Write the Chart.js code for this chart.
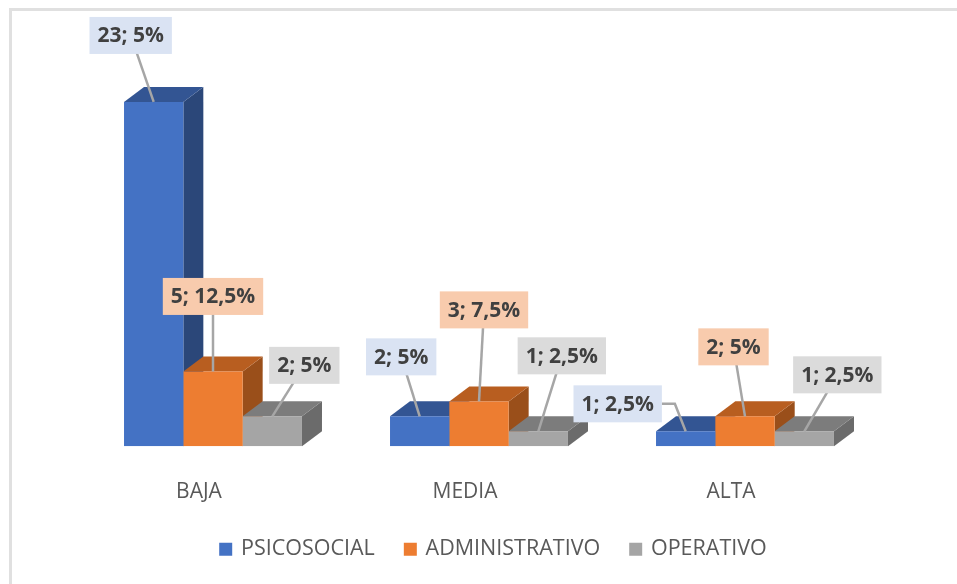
<!DOCTYPE html>
<html>
<head>
<meta charset="utf-8">
<script src="https://cdn.jsdelivr.net/npm/chart.js@4"></script>
<style>
  html, body { margin: 0; padding: 0; background: #fff; overflow: hidden; }
  #frame { position: absolute; left: 9px; top: 8px; width: 948px; height: 576px; border-top: 3px solid #e0e0e0; border-left: 3px solid #e0e0e0; box-sizing: border-box; }
  canvas { position: absolute; left: 0; top: 0; }
</style>
</head>
<body>
<div id="frame"></div>
<canvas id="chart" width="957" height="584"></canvas>
<script>
const categories = ["BAJA", "MEDIA", "ALTA"];
const psicosocial = [23, 2, 1];
const administrativo = [5, 3, 2];
const operativo = [2, 1, 1];
const psicosocialPct = ["5%", "5%", "2,5%"];
const administrativoPct = ["12,5%", "7,5%", "5%"];
const operativoPct = ["5%", "2,5%", "2,5%"];

// box centre relative to the top centre of the bar's front face, per category then series
const labelPlace = [
  [[-23, -66.5], [0, -75], [32, -51]],
  [[-18.5, -59.5], [5, -91.5], [23.5, -75.5]],
  [[-68, -27.5], [-11.5, -69.5], [33, -56.5]]
];
const faces = [
  { top: "#335593", side: "#2B4779", label: "#DAE3F3" },
  { top: "#B85E20", side: "#9A4F1A", label: "#F8CBAD" },
  { top: "#7C7C7C", side: "#6B6B6B", label: "#DBDBDB" }
];
const pcts = [psicosocialPct, administrativoPct, operativoPct];
const depthX = 20, depthY = 15;

const poly = (ctx, pts, color) => {
  ctx.fillStyle = color;
  ctx.beginPath();
  pts.forEach(([x, y], i) => (i ? ctx.lineTo(x, y) : ctx.moveTo(x, y)));
  ctx.closePath();
  ctx.fill();
};

// sides and tops of the boxes, behind the fronts that Chart.js draws
const depthPlugin = {
  id: "depth",
  beforeDatasetsDraw(chart) {
    const ctx = chart.ctx;
    categories.forEach((_, j) => {
      faces.forEach((face, i) => {
        const b = chart.getDatasetMeta(i).data[j];
        const l = b.x - b.width / 2, r = b.x + b.width / 2;
        poly(ctx, [[r, b.y], [r + depthX, b.y - depthY], [r + depthX, b.base - depthY], [r, b.base]], face.side);
        poly(ctx, [[l, b.y], [l + depthX, b.y - depthY], [r + depthX, b.y - depthY], [r, b.y]], face.top);
      });
    });
  }
};

const labelPlugin = {
  id: "valueLabels",
  afterLayout(chart) {
    chart.legend.left += 15;
    chart.legend.right += 15;
    chart.legend.top -= 22;
    chart.legend.bottom -= 22;
  },
  afterDatasetsDraw(chart) {
    const ctx = chart.ctx;
    ctx.save();
    ctx.font = "bold 21px 'Open Sans'";
    ctx.textAlign = "center";
    ctx.textBaseline = "middle";
    categories.forEach((_, j) => {
      faces.forEach((face, i) => {
        const b = chart.getDatasetMeta(i).data[j];
        const [dx, dy] = labelPlace[j][i];
        const text = chart.data.datasets[i].data[j] + "; " + pcts[i][j];
        const cx = b.x + dx, cy = b.y + dy;
        const w = ctx.measureText(text).width + 16, h = 37;
        ctx.strokeStyle = "#A6A6A6";
        ctx.lineWidth = 2.5;
        ctx.beginPath();
        if (j === 2 && i === 0) {
          ctx.moveTo(cx + w / 2, cy);
          ctx.lineTo(cx + w / 2 + 13, cy);
        } else {
          ctx.moveTo(cx, cy);
        }
        ctx.lineTo(b.x, b.y);
        ctx.stroke();
        ctx.fillStyle = face.label;
        ctx.fillRect(cx - w / 2, cy - h / 2, w, h);
        ctx.fillStyle = "#404040";
        ctx.fillText(text, cx, cy + 1);
      });
    });
    ctx.restore();
  }
};

new Chart(document.getElementById("chart"), {
  type: "bar",
  data: {
    labels: categories,
    datasets: [
      { label: "PSICOSOCIAL", data: psicosocial, backgroundColor: "#4472C4" },
      { label: "ADMINISTRATIVO", data: administrativo, backgroundColor: "#ED7D31" },
      { label: "OPERATIVO", data: operativo, backgroundColor: "#A5A5A5" }
    ]
  },
  options: {
    responsive: false,
    animation: false,
    categoryPercentage: 0.669,
    barPercentage: 1,
    layout: { padding: { left: 80, right: 79, top: 72, bottom: -8 } },
    scales: {
      x: {
        grid: { display: false },
        border: { display: false },
        ticks: { labelOffset: -14, padding: 25, color: "#595959", font: { family: "'Open Sans'", size: 21 } }
      },
      y: { display: false, min: 0, max: 25 }
    },
    plugins: {
      tooltip: { enabled: false },
      legend: {
        position: "bottom",
        labels: { usePointStyle: true, pointStyle: "rect", boxWidth: 9, boxHeight: 13, padding: 31, color: "#595959", font: { family: "'Open Sans'", size: 21.5 } }
      }
    }
  },
  plugins: [depthPlugin, labelPlugin]
});
</script>
</body>
</html>
